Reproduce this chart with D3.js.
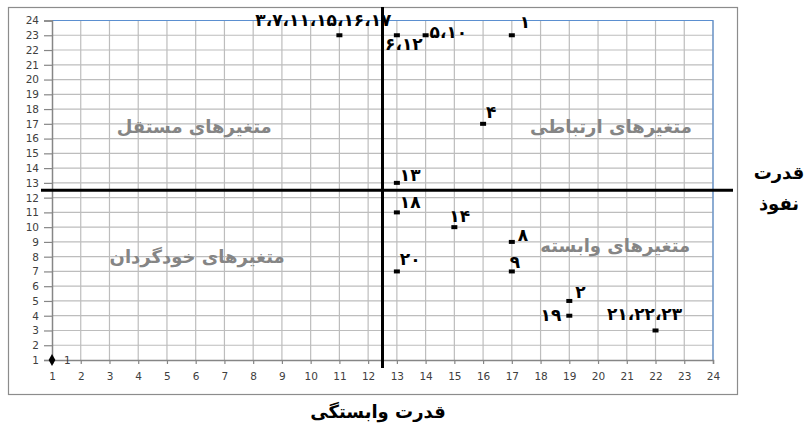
<!DOCTYPE html>
<html>
<head>
<meta charset="utf-8">
<script src="https://cdn.jsdelivr.net/npm/d3@7"></script>
<style>
  body { margin: 0; background: #fff; }
  svg { display: block; }
</style>
</head>
<body>
<div id="chart"></div>
<script>
// MICMAC chart: dependence (x) vs driving power (y)
var xValues = [11, 13, 14, 17, 16, 13, 13, 15, 17, 17, 13, 19, 19, 22];
var yValues = [23, 23, 23, 23, 17, 13, 11, 10, 9, 7, 7, 5, 4, 3];
var pointLabels = ["۳،۷،۱۱،۱۵،۱۶،۱۷", "۶،۱۲", "۵،۱۰", "۱", "۴", "۱۳", "۱۸", "۱۴", "۸", "۹", "۲۰", "۲", "۱۹", "۲۱،۲۲،۲۳"];
var originPoint = [1, 1];
var originLabel = "1";
var tickValues = d3.range(1, 25);
var cutX = 12.5, cutY = 12.5;
var quadrantNames = ["متغیرهای مستقل", "متغیرهای ارتباطی", "متغیرهای خودگردان", "متغیرهای وابسته"];
var xTitle = "قدرت وابستگی";
var yTitle = ["قدرت", "نفوذ"];

// label placement (pixels from marker)
var labelOffsets = [[-16, -9, "middle"], [7, 15, "middle"], [4, 3, "start"], [8, -7, "start"],
  [3, -6, "start"], [3, -2, "start"], [3, -4, "start"], [-5, -5, "start"], [6, -1, "start"],
  [-2, -3, "start"], [3, -6, "start"], [6, -3, "start"], [-8, 5, "end"], [-11, -10, "middle"]];

var width = 804, height = 423;
var svg = d3.select("#chart").append("svg")
    .attr("width", width)
    .attr("height", height);

var x = d3.scaleLinear().domain([1, 24]).range([52, 713]);
var y = d3.scaleLinear().domain([1, 24]).range([360, 20.5]);

// chart border
svg.append("rect")
    .attr("x", 8.5).attr("y", 7.5)
    .attr("width", 729).attr("height", 387)
    .attr("fill", "none")
    .attr("stroke", "#8c8c8c")
    .attr("stroke-width", 1.2);

// grid
svg.append("g").selectAll("line")
    .data(tickValues.slice(1))
    .join("line")
    .attr("x1", d => x(d)).attr("x2", d => x(d))
    .attr("y1", y(24)).attr("y2", y(1))
    .attr("stroke", "#bdbdbd").attr("stroke-width", 1.2);

svg.append("g").selectAll("line")
    .data(tickValues.slice(1))
    .join("line")
    .attr("x1", x(1)).attr("x2", x(24))
    .attr("y1", d => y(d)).attr("y2", d => y(d))
    .attr("stroke", "#bdbdbd").attr("stroke-width", 1.2);

// blue plot border on top / right
svg.append("polyline")
    .attr("points", [x(1), y(24), x(24), y(24), x(24), y(1)])
    .attr("fill", "none")
    .attr("stroke", "#5b8fd0")
    .attr("stroke-width", 1.2);

// axes
var xAxis = d3.axisBottom(x).tickValues(tickValues).tickSize(4).tickPadding(9).tickFormat(d3.format("d"));
var yAxis = d3.axisLeft(y).tickValues(tickValues).tickSize(8).tickPadding(5).tickFormat(d3.format("d"));

var gx = svg.append("g").attr("transform", "translate(0," + y(1) + ")").call(xAxis);
var gy = svg.append("g").attr("transform", "translate(" + x(1) + ",0)").call(yAxis);

[gx, gy].forEach(function(g) {
  g.select(".domain").attr("stroke", "#868686").attr("stroke-width", 1.5);
  g.selectAll(".tick line").attr("stroke", "#868686").attr("stroke-width", 1.2);
  g.selectAll(".tick text")
    .attr("fill", "#404040")
    .style("font-family", "DejaVu Sans, sans-serif")
    .style("font-size", "10.5px");
});

// quadrant divider lines
svg.append("line")
    .attr("x1", x(cutX)).attr("x2", x(cutX))
    .attr("y1", 7).attr("y2", 368)
    .attr("stroke", "#000").attr("stroke-width", 3);
svg.append("line")
    .attr("x1", 41).attr("x2", 733)
    .attr("y1", y(cutY)).attr("y2", y(cutY))
    .attr("stroke", "#000").attr("stroke-width", 3);

// quadrant names
var quadPos = [[5.95, 16.8], [20.45, 16.8], [6.05, 8.0], [20.6, 8.7]];
svg.append("g").selectAll("text")
    .data(quadrantNames)
    .join("text")
    .attr("x", (d, i) => x(quadPos[i][0]))
    .attr("y", (d, i) => y(quadPos[i][1]) + 6)
    .attr("text-anchor", "middle")
    .attr("direction", "rtl")
    .attr("fill", "#858585")
    .style("font-family", "DejaVu Sans, sans-serif")
    .style("font-size", "18px")
    .style("font-weight", "bold")
    .text(d => d);

// markers
svg.append("g").selectAll("rect")
    .data(xValues)
    .join("rect")
    .attr("x", (d, i) => x(d) - 3)
    .attr("y", (d, i) => y(yValues[i]) - 2)
    .attr("width", 6).attr("height", 4)
    .attr("fill", "#000");

svg.append("path")
    .attr("d", d3.symbol(d3.symbolDiamond, 40))
    .attr("transform", "translate(" + x(originPoint[0]) + "," + y(originPoint[1]) + ")")
    .attr("fill", "#000");

svg.append("text")
    .attr("x", x(originPoint[0]) + 12)
    .attr("y", y(originPoint[1]) + 4)
    .attr("fill", "#404040")
    .style("font-family", "DejaVu Sans, sans-serif")
    .style("font-size", "10.5px")
    .text(originLabel);

// point labels
svg.append("g").selectAll("text")
    .data(pointLabels)
    .join("text")
    .attr("x", (d, i) => x(xValues[i]) + labelOffsets[i][0])
    .attr("y", (d, i) => y(yValues[i]) + labelOffsets[i][1])
    .attr("text-anchor", (d, i) => labelOffsets[i][2])
    .attr("fill", "#000")
    .style("font-family", "DejaVu Sans, sans-serif")
    .style("font-size", "17px")
    .style("font-weight", "bold")
    .text(d => d);

// axis titles
svg.append("text")
    .attr("x", 378).attr("y", 418)
    .attr("text-anchor", "middle")
    .attr("direction", "rtl")
    .style("font-family", "DejaVu Sans, sans-serif")
    .style("font-size", "18px")
    .style("font-weight", "bold")
    .text(xTitle);

svg.append("g").selectAll("text")
    .data(yTitle)
    .join("text")
    .attr("x", 779)
    .attr("y", (d, i) => 179 + i * 31)
    .attr("text-anchor", "middle")
    .attr("direction", "rtl")
    .style("font-family", "DejaVu Sans, sans-serif")
    .style("font-size", "18px")
    .style("font-weight", "bold")
    .text(d => d);
</script>
</body>
</html>
